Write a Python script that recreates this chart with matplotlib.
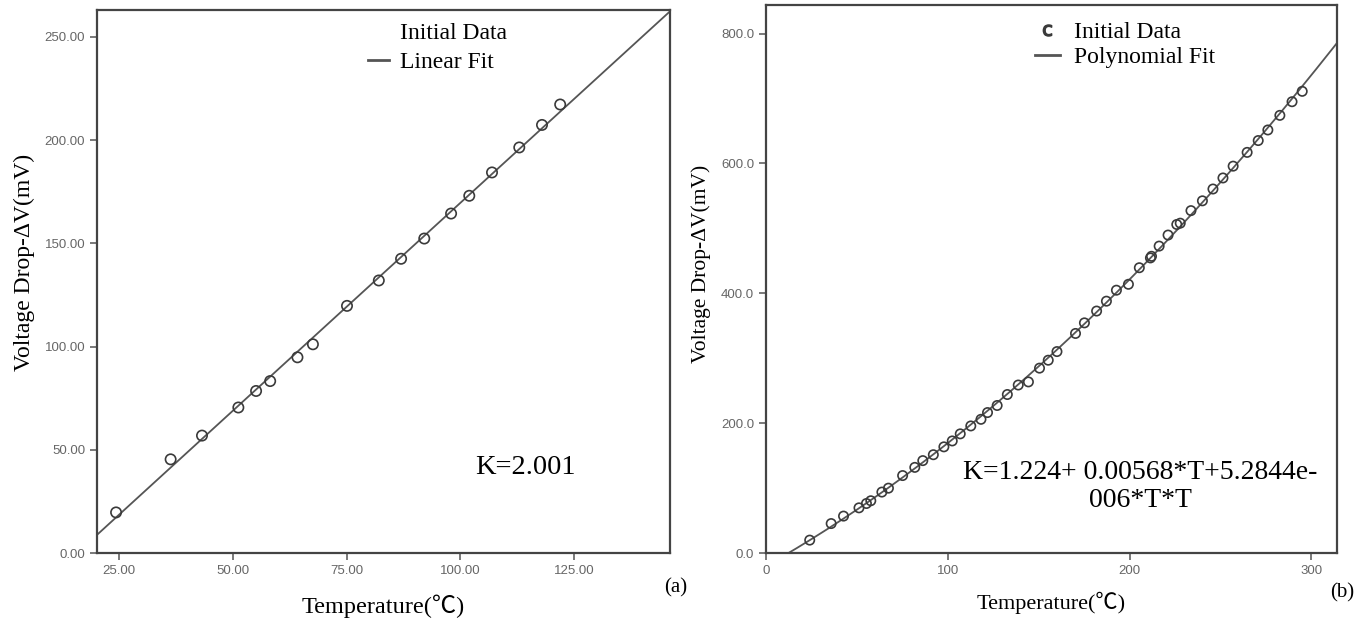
"""Voltage drop vs temperature: linear fit (a) and polynomial fit (b)."""

import matplotlib
matplotlib.use("Agg")
import matplotlib.pyplot as plt
import numpy as np
from matplotlib.lines import Line2D
from matplotlib.ticker import FormatStrFormatter

# panel (a) data
temp_a = [24.3, 36.3, 43.2, 51.2, 55.1, 58.2, 64.2, 67.6, 75.1, 82.1,
          87.0, 92.1, 98.0, 102.0, 107.0, 113.0, 118.0, 122.0]
volt_a = [19.7, 45.4, 56.9, 70.5, 78.5, 83.3, 94.8, 101.1, 119.7, 132.0,
          142.5, 152.3, 164.4, 173.0, 184.3, 196.4, 207.3, 217.2]

# panel (b) data
temp_b = [24.0, 35.8, 42.6, 51.1, 55.2, 57.6, 63.7, 67.3, 75.1, 81.8,
          86.2, 92.0, 97.8, 102.4, 106.8, 112.6, 118.2, 121.8, 127.1, 132.7,
          138.7, 144.3, 150.4, 155.2, 160.0, 170.2, 175.1, 181.8, 187.2, 192.7,
          199.3, 205.3, 211.4, 212.0, 216.2, 221.1, 225.9, 227.8, 233.7, 240.0,
          245.8, 251.3, 256.9, 264.6, 270.7, 276.0, 282.6, 289.3, 294.9]
volt_b = [20.0, 45.5, 57.0, 69.7, 76.4, 80.6, 94.0, 100.0, 119.4, 132.0,
          142.4, 151.5, 163.6, 172.7, 183.6, 195.8, 206.0, 216.4, 227.3, 244.2,
          258.8, 263.6, 284.8, 297.0, 310.3, 338.2, 354.5, 372.7, 387.9, 404.8,
          413.9, 439.4, 454.5, 457.0, 472.7, 489.7, 506.0, 508.0, 527.3, 542.4,
          560.6, 577.6, 595.8, 617.0, 635.2, 651.5, 674.0, 695.0, 711.0]

xticks_a = [25, 50, 75, 100, 125]
yticks_a = [0, 50, 100, 150, 200, 250]
xticks_b = [0, 100, 200, 300]
yticks_b = [0, 200, 400, 600, 800]

SERIF = ["Liberation Serif", "DejaVu Serif"]
LABEL_FONT = ["Liberation Serif", "Noto Sans CJK SC", "DejaVu Sans"]
LINE = "#555555"
EDGE = "#3a3a3a"


def style_axes(ax):
    for spine in ax.spines.values():
        spine.set_color("#444444")
        spine.set_linewidth(1.6)
    ax.tick_params(direction="out", length=5, width=1.1, color="#555555",
                   labelcolor="#666666", labelsize=9.5, top=False, right=False)
    for lab in ax.get_xticklabels() + ax.get_yticklabels():
        lab.set_family("Liberation Sans")


fig = plt.figure(figsize=(13.68, 6.18), dpi=100)
ax1 = fig.add_axes([0.0709, 0.105, 0.419, 0.879])
ax2 = fig.add_axes([0.560, 0.105, 0.4173, 0.887])

# (a) linear fit
fit_a = np.polyfit(temp_a, volt_a, 1)
xa = np.linspace(20.1, 146.2, 200)
ax1.plot(xa, np.polyval(fit_a, xa), color=LINE, lw=1.3)
ax1.scatter(temp_a, volt_a, s=55, facecolors="none", edgecolors=EDGE, linewidths=1.2, zorder=3)
ax1.set_xlim(20.1, 146.2)
ax1.set_ylim(0, 263)
ax1.set_xticks(xticks_a)
ax1.set_yticks(yticks_a)
ax1.xaxis.set_major_formatter(FormatStrFormatter("%.2f"))
ax1.yaxis.set_major_formatter(FormatStrFormatter("%.2f"))
style_axes(ax1)
ax1.set_xlabel("Temperature(℃)", family=LABEL_FONT, fontsize=17.5, labelpad=13)
ax1.set_ylabel("Voltage Drop-ΔV(mV)", family=LABEL_FONT, fontsize=17)
ax1.yaxis.set_label_coords(-0.108, 0.536)
ax1.text(0.747, 0.157, "K=2.001", transform=ax1.transAxes, ha="center", va="center",
         family=SERIF, fontsize=20.5)
handles_a = [Line2D([], [], ls="none", marker=None),
             Line2D([], [], color=LINE, lw=2)]
ax1.legend(handles_a, ["Initial Data", "Linear Fit"], loc="upper left",
           bbox_to_anchor=(0.473, 0.976), frameon=False, prop={"family": SERIF, "size": 17},
           borderpad=0, borderaxespad=0, handlelength=0.9, handletextpad=0.47,
           labelspacing=0.3)

# (b) polynomial fit
fit_b = np.polyfit(temp_b, volt_b, 2)
xb = np.linspace(0, 314, 300)
ax2.plot(xb, np.polyval(fit_b, xb), color=LINE, lw=1.3)
ax2.scatter(temp_b, volt_b, s=45, facecolors="none", edgecolors=EDGE, linewidths=1.2, zorder=3)
ax2.set_xlim(0, 314)
ax2.set_ylim(0, 844)
ax2.set_xticks(xticks_b)
ax2.set_yticks(yticks_b)
ax2.yaxis.set_major_formatter(FormatStrFormatter("%.1f"))
style_axes(ax2)
ax2.set_xlabel("Temperature(℃)", family=LABEL_FONT, fontsize=16, labelpad=11)
ax2.set_ylabel("Voltage Drop-ΔV(mV)", family=LABEL_FONT, fontsize=15.5)
ax2.yaxis.set_label_coords(-0.096, 0.527)
ax2.text(0.655, 0.122, "K=1.224+ 0.00568*T+5.2844e-\n006*T*T", transform=ax2.transAxes,
         ha="center", va="center", family=SERIF, fontsize=20, linespacing=1.15)
handles_b = [Line2D([], [], ls="none", marker=r"$\mathsf{c}$", color=EDGE, markersize=8),
             Line2D([], [], color=LINE, lw=2)]
ax2.legend(handles_b, ["Initial Data", "Polynomial Fit"], loc="upper left",
           bbox_to_anchor=(0.471, 0.969), frameon=False, prop={"family": SERIF, "size": 17},
           borderpad=0, borderaxespad=0, handlelength=1.06, handletextpad=0.6,
           labelspacing=0.12)

fig.text(0.494, 0.0485, "(a)", family=SERIF, fontsize=15, ha="center", va="center")
fig.text(0.981, 0.041, "(b)", family=SERIF, fontsize=15, ha="center", va="center")

fig.savefig("out.png", dpi=100)
